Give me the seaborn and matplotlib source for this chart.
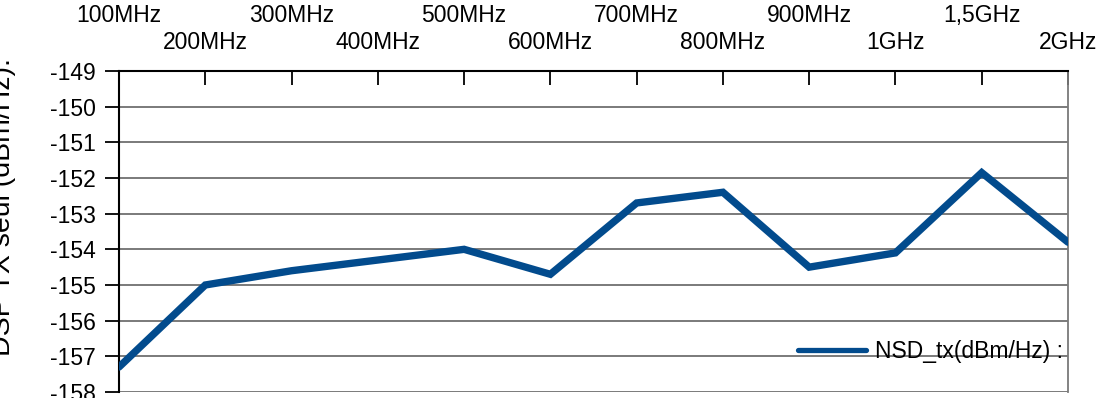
import numpy as np
import pandas as pd
import matplotlib
matplotlib.use("Agg")
import matplotlib.pyplot as plt
import seaborn as sns

sns.set_theme(style="white")
plt.rcParams['font.family'] = ['Liberation Sans', 'DejaVu Sans']
plt.rcParams['text.color'] = 'black'
plt.rcParams['xtick.color'] = 'black'
plt.rcParams['ytick.color'] = 'black'

# donnees
freqs = ["100MHz", "200MHz", "300MHz", "400MHz", "500MHz", "600MHz",
         "700MHz", "800MHz", "900MHz", "1GHz", "1,5GHz", "2GHz"]
nsd_tx = [-157.3, -155.0, -154.6, -154.3, -154.0, -154.7,
          -152.7, -152.4, -154.5, -154.1, -151.85, -153.8]
yticks = list(range(-158, -148))

df = pd.DataFrame({"pos": np.arange(len(freqs)), "nsd": nsd_tx})

fig = plt.figure(figsize=(11, 3.98), dpi=100)
ax = fig.add_axes([0.1082, 0.0151, 0.8627, 0.8065])

sns.lineplot(data=df, x="pos", y="nsd", ax=ax, color="#024b8d", linewidth=5.3,
             label="NSD_tx(dBm/Hz) :", solid_joinstyle="miter", zorder=3)

ax.set_xlim(0, len(freqs) - 1)
ax.set_ylim(-158, -149)
ax.set_yticks(yticks)
ax.set_yticklabels([str(v) for v in yticks])
ax.yaxis.grid(True, color="#7a7a7a", linewidth=1.4)
ax.set_axisbelow(True)

# axe des x en haut, etiquettes sur deux rangees
ax.xaxis.tick_top()
ax.set_xticks(np.arange(0, len(freqs), 2))
ax.set_xticklabels(freqs[0::2])
ax.set_xticks(np.arange(1, len(freqs), 2), minor=True)
ax.set_xticklabels(freqs[1::2], minor=True)
ax.tick_params(axis="x", which="both", direction="in", length=10, width=1.3,
               color="black", labelsize=16.5, top=True, bottom=False)
ax.tick_params(axis="x", which="major", pad=32)
ax.tick_params(axis="x", which="minor", pad=12)
ax.tick_params(axis="y", direction="out", length=10, width=1.3, color="black",
               labelsize=16.5, pad=7, left=True)
ax.set_xlabel("")
ax.set_ylabel("")

for s in ["left", "top"]:
    ax.spines[s].set_color("black")
    ax.spines[s].set_linewidth(1.5)
ax.spines["right"].set_color("#7a7a7a")
ax.spines["right"].set_linewidth(1.3)
ax.spines["bottom"].set_visible(False)

leg = ax.legend(loc="center left", bbox_to_anchor=(0.7155, 0.125), frameon=False,
                fontsize=16.5, handlelength=2.95, handletextpad=0.42, borderpad=0,
                borderaxespad=0)
leg.get_lines()[0].set_linewidth(3.8)
for t in leg.get_texts():
    t.set_clip_box(ax.bbox)
    t.set_clip_on(True)

fig.text(0.003, 0.48, "DSP TX seul (dBm/Hz):", rotation=90, ha="center",
         va="center", fontsize=20.5, color="black")

fig.savefig("out.png", dpi=100)
